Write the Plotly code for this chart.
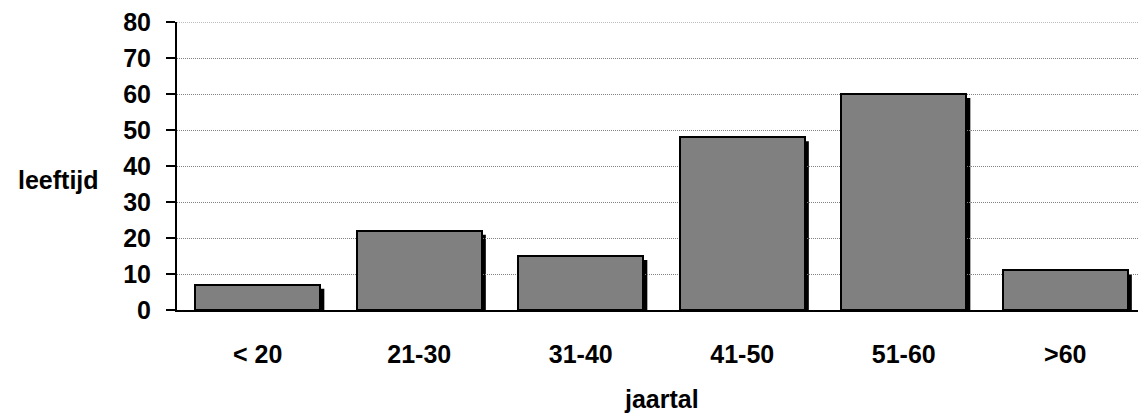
import plotly.graph_objects as go

categories = ["< 20", "21-30", "31-40", "41-50", "51-60", ">60"]
values = [7, 22, 15, 48, 60, 11]
y_ticks = [0, 10, 20, 30, 40, 50, 60, 70, 80]

FONT = "Liberation Sans, Arial, sans-serif"
FS = 25
BAR_W = 0.775
Y_MAX = y_ticks[-1]

fig = go.Figure()
fig.add_trace(go.Bar(
    x=list(range(len(categories))), y=values, width=BAR_W,
    marker=dict(color="#808080", line=dict(color="black", width=2)),
    hoverinfo="skip",
))

# drop shadows to the right of each bar
for i, v in enumerate(values):
    fig.add_shape(type="rect", xref="x", yref="y",
                  xsizemode="pixel", xanchor=i + BAR_W / 2, x0=0, x1=4,
                  ysizemode="pixel", yanchor=v, y0=-4, y1=-600,
                  fillcolor="black", line=dict(width=0), layer="below")

# top gridline (plotly omits gridline at range edge)
fig.add_shape(type="line", xref="paper", yref="y", x0=0, x1=1, y0=Y_MAX, y1=Y_MAX,
              line=dict(color="#808080", width=1, dash="1px,1px"), layer="below")

# page body has an 8px margin, so the figure is sized to fit the window
fig.update_layout(
    width=1138, height=406,
    margin=dict(l=169, r=0, t=14, b=104),
    plot_bgcolor="white", paper_bgcolor="white",
    showlegend=False, bargap=0,
    font=dict(family=FONT, size=FS, color="black", weight="bold"),
    xaxis=dict(
        range=[-0.5, len(categories) - 0.5],
        tickmode="array", tickvals=list(range(len(categories))), ticktext=categories,
        showgrid=False, zeroline=False,
        showline=True, linecolor="black", linewidth=2,
        ticks="", ticklabelstandoff=21,
        tickfont=dict(family=FONT, size=FS, weight="bold"),
    ),
    yaxis=dict(
        range=[0, Y_MAX], tickmode="array", tickvals=y_ticks,
        showgrid=True, gridcolor="#808080", gridwidth=1, griddash="1px,1px",
        zeroline=False, showline=True, linecolor="black", linewidth=2,
        ticks="outside", ticklen=9, tickwidth=2, tickcolor="black",
        ticklabelstandoff=10, ticklabeloverflow="allow",
        tickfont=dict(family=FONT, size=FS, weight="bold"),
    ),
)

# category boundary ticks on x axis
for b in range(len(categories)):
    fig.add_shape(type="line", xref="x", yref="y",
                  x0=b - 0.5, x1=b - 0.5,
                  ysizemode="pixel", yanchor=0, y0=0, y1=-9,
                  line=dict(color="black", width=2))

fig.add_annotation(text="leeftijd", xref="paper", yref="paper",
                   x=-0.122, y=0.45, xanchor="center", yanchor="middle",
                   showarrow=False, font=dict(family=FONT, size=FS, weight="bold"))
fig.add_annotation(text="jaartal", xref="paper", yref="paper",
                   x=0.5, y=-0.31, xanchor="center", yanchor="middle",
                   showarrow=False, font=dict(family=FONT, size=FS, weight="bold"))

fig.write_html("out.html")
